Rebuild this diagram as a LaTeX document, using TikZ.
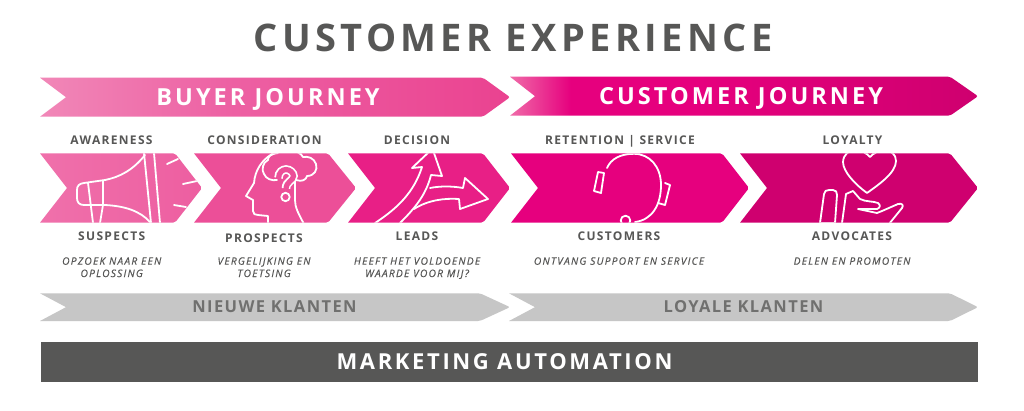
\documentclass[tikz,border=0pt]{standalone}
\usepackage{fontspec}
\setmainfont{Open Sans}
\newfontfamily\fTitle[LetterSpace=11.5]{Open Sans}
\newfontfamily\fBanner[LetterSpace=13]{Open Sans}
\newfontfamily\fMark[LetterSpace=12]{Open Sans}
\newfontfamily\fLabel[LetterSpace=11]{Open Sans}
\newfontfamily\fGray[LetterSpace=8.5]{Open Sans}
\newfontfamily\fSub[LetterSpace=12,FakeBold=0.3]{Open Sans}
\definecolor{ink}{HTML}{575756}
\definecolor{band}{HTML}{C6C6C6}
\definecolor{stepB}{HTML}{EC4F98}
\definecolor{stepC}{HTML}{E81F86}
\definecolor{stepD}{HTML}{E6007E}
\definecolor{stepE}{HTML}{CF006F}
\pgfdeclarehorizontalshading{bannerOne}{100bp}{
 rgb(0bp)=(0.945,0.53,0.72); rgb(25bp)=(0.945,0.53,0.72); rgb(45bp)=(0.93,0.38,0.64); rgb(75bp)=(0.918,0.26,0.565); rgb(100bp)=(0.918,0.26,0.565)}
\pgfdeclarehorizontalshading{bannerTwo}{100bp}{
 rgb(0bp)=(0.94,0.42,0.66); rgb(25bp)=(0.94,0.42,0.66); rgb(31.5bp)=(0.902,0,0.494); rgb(45bp)=(0.902,0,0.494); rgb(75bp)=(0.81,0,0.435); rgb(100bp)=(0.81,0,0.435)}
\pgfdeclarehorizontalshading{stepOne}{100bp}{
 rgb(0bp)=(0.94,0.44,0.67); rgb(25bp)=(0.94,0.44,0.67); rgb(75bp)=(0.93,0.37,0.63); rgb(100bp)=(0.93,0.37,0.63)}
\tikzset{
 x=1pt,y=-1pt,
 ico/.style={draw=white,line width=1.8pt,line join=round,line cap=round},
 ttl/.style={anchor=base,inner sep=0,text=ink,font=\fTitle\bfseries\fontsize{38}{38}\selectfont},
 ban/.style={anchor=base,inner sep=0,text=white,font=\fBanner\bfseries\fontsize{23.5}{24}\selectfont},
 lab/.style={anchor=base,inner sep=0,text=ink,font=\fLabel\bfseries\fontsize{12}{12}\selectfont},
 sub/.style={anchor=base,inner sep=0,text=ink,align=center,font=\fSub\itshape\fontsize{10.2}{12.3}\selectfont},
 gry/.style={anchor=base,inner sep=0,text=ink!85,font=\fGray\bfseries\fontsize{16.5}{17}\selectfont},
 mka/.style={anchor=base,inner sep=0,text=white,font=\fMark\bfseries\fontsize{22}{22}\selectfont},
}
% chevron path: left, notch, shoulder, tip, top, bottom
\newcommand{\chevpath}[6]{(#1,#5) [rounded corners=2pt] -- (#3,#5) -- (#4,{(#5+#6)/2}) -- (#3,#6) [sharp corners] -- (#1,#6) -- (#2,{(#5+#6)/2}) -- cycle}
\begin{document}
\begin{tikzpicture}
\useasboundingbox (0,0) rectangle (1024,410);
\fill[white] (0,0) rectangle (1024,410);
\node[ttl] (title) at (513,51) {CUSTOMER EXPERIENCE};
% banners
\shade[shading=bannerOne] \chevpath{40}{66}{483}{510}{77.7}{116.7};
\shade[shading=bannerTwo] \chevpath{510}{535}{950}{978}{76.7}{115.7};
\node[ban] (buyer) at (268,105) {BUYER JOURNEY};
\node[ban] (cust) at (741,104) {CUSTOMER JOURNEY};
% step arrows
\shade[shading=stepOne] \chevpath{40}{67}{175}{202}{153.3}{222.7};
\fill[stepB] \chevpath{194}{221}{328}{356}{153.3}{222.7};
\fill[stepC] \chevpath{348}{375}{483}{510}{153.3}{222.7};
\fill[stepD] \chevpath{511}{538}{722}{749}{153.3}{222.7};
\fill[stepE] \chevpath{740}{767}{950}{978}{153.3}{222.7};
% megaphone
\begin{scope}
\clip \chevpath{40}{67}{175}{202}{153.3}{222.7};
\draw[ico] (145,155) .. controls (133,170) and (120,177) .. (105,180) -- (84,183)
  .. controls (79,183.5) and (77,186) .. (77,190) -- (77,198) .. controls (77,202) and (79,205) .. (84,205)
  -- (105,205) .. controls (125,206) and (140,211) .. (150,222);
\draw[ico] (144,153) -- (151,223);
\draw[ico] (154,153) -- (160,223);
\draw[ico] (88,183) -- (93,223);
\draw[ico] (103,181) -- (103,205) -- (100,223);
\draw[ico] (167,164) -- (178,159);
\draw[ico] (183,184) -- (197,181);
\draw[ico] (174,205) -- (186,207);
\end{scope}
% head
\begin{scope}
\clip \chevpath{194}{221}{328}{356}{153.3}{222.7};
\draw[ico] (272,154) .. controls (262,160) and (255,170) .. (254,183) -- (246,196) -- (253,200) -- (253,211)
  .. controls (253,214) and (255,215) .. (258,215) -- (268,216) -- (268,224);
\draw[ico] (304,224) .. controls (298,213) and (295,207) .. (295,200) -- (295,180);
\draw[ico] (278,153) .. controls (270,154) and (268,157) .. (268,160)
  .. controls (263,162) and (261,170) .. (264,174) .. controls (266,179) and (272,181) .. (277,180);
\draw[ico] (296,180) .. controls (302,182) and (306,180) .. (307,176)
  .. controls (314,176) and (318,170) .. (316,164) .. controls (314,158) and (308,156) .. (303,157)
  .. controls (301,153) and (296,151) .. (292,152);
\draw[white,line width=8.6pt,line cap=butt] (278.5,178) .. controls (278.5,172) and (283,169.5) .. (286,169.5) .. controls (290,169.5) and (293.5,173) .. (293.5,176) .. controls (293.5,181) and (286,181) .. (286,188.5);
\draw[stepB,line width=5.2pt,line cap=butt] (278.5,178.8) .. controls (278.5,172) and (283,169.5) .. (286,169.5) .. controls (290,169.5) and (293.5,173) .. (293.5,176) .. controls (293.5,181) and (286,181) .. (286,189.5);
\draw[ico] (285.5,197) circle (4.2);
\end{scope}
% arrows
\begin{scope}
\clip \chevpath{348}{375}{483}{510}{153.3}{222.7};
\draw[ico] (375,223) .. controls (398,208) and (414,192) .. (422,167) -- (412,168) -- (431,150) -- (434,153) -- (442,176) -- (431,175)
 .. controls (426,195) and (415,208) .. (400,223);
\draw[ico] (430,188) .. controls (440,186) and (452,186) .. (463,188) -- (465,178) -- (488,199) -- (460,209) -- (459,199)
 .. controls (445,198) and (428,200) .. (414,209);
\end{scope}
% headset
\begin{scope}
\clip \chevpath{511}{538}{722}{749}{153.3}{222.7};
\draw[ico] (607,168) .. controls (611,159) and (620,153.8) .. (634,153.8) .. controls (650,153.8) and (661,167) .. (661,185)
  .. controls (661,205) and (652,220) .. (635,222);
\draw[ico] (598,172) -- (604,173) -- (601,193) -- (594,191) -- cycle;
\draw[ico] (665,183) -- (670,185) -- (665,205) -- (658,203);
\draw[ico] (625.5,220.5) circle (4.8);
\end{scope}
% heart and hand
\begin{scope}
\clip \chevpath{740}{767}{950}{978}{153.3}{222.7};
\draw[ico] (870,157) .. controls (864,149) and (844,146) .. (843,162) .. controls (843,172) and (856,185) .. (867,193)
  .. controls (878,185) and (896,173) .. (896,161) .. controls (896,147) and (876,149) .. (870,157) -- cycle;
\draw[ico] (820,223) -- (824,194) .. controls (824.5,191) and (826,190) .. (829,190) -- (833,190) .. controls (836,190) and (837,192) .. (837,195) -- (835,223) -- cycle;
\draw[ico] (842,223) -- (846,194) -- (853,191) -- (860,199) .. controls (866,202) and (873,201) .. (878,203) .. controls (881,205) and (880,208) .. (877,209)
 -- (858,209) -- (877,213) -- (882,211) -- (898,204) .. controls (902,203) and (904,205) .. (902,208) -- (889,224);
\end{scope}
% labels
\node[lab] (aw) at (111.5,144.5) {AWARENESS};
\node[lab] (co) at (264.5,144.5) {CONSIDERATION};
\node[lab] (de) at (417,144.5) {DECISION};
\node[lab] (re) at (620,144.5) {RETENTION | SERVICE};
\node[lab] (lo) at (852.5,144.5) {LOYALTY};
\node[lab] (su) at (111.7,240) {SUSPECTS};
\node[lab] (pr) at (264,242.5) {PROSPECTS};
\node[lab] (le) at (417,240) {LEADS};
\node[lab] (cu) at (619,240) {CUSTOMERS};
\node[lab] (ad) at (852,240) {ADVOCATES};
\node[sub] (s1) at (111.7,277) {OPZOEK NAAR EEN\\OPLOSSING};
\node[sub] (s2) at (264,277) {VERGELIJKING EN\\TOETSING};
\node[sub] (s3) at (417,277) {HEEFT HET VOLDOENDE\\WAARDE VOOR MIJ?};
\node[sub] (s4) at (619,264.7) {ONTVANG SUPPORT EN SERVICE};
\node[sub] (s5) at (852,264.7) {DELEN EN PROMOTEN};
% grey bands
\fill[band] \chevpath{40}{66}{480}{510}{293.3}{321};
\fill[band] \chevpath{509}{535}{950}{978}{293.3}{321};
\node[gry] (nk) at (274.5,312.5) {NIEUWE KLANTEN};
\node[gry] (lk) at (743.5,312.5) {LOYALE KLANTEN};
\fill[ink] (41,342) rectangle (978,381.7);
\node[mka] (ma) at (504.5,369.5) {MARKETING AUTOMATION};
\end{tikzpicture}
\end{document}
